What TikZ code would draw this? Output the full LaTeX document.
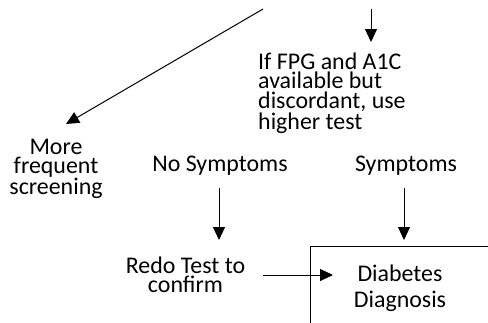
\documentclass[tikz,border=0pt]{standalone}
\usepackage{fontspec}
\setmainfont{Carlito}
\usetikzlibrary{arrows.meta}
\begin{document}
\begin{tikzpicture}[x=1bp,y=-1bp,
  txt/.style={font=\fontsize{24}{19.5}\selectfont, align=center, inner sep=0pt},
  arr/.style={-{Triangle[length=13bp,width=12bp]}, line width=1bp}]
\useasboundingbox (0,0) rectangle (488,322);
\clip (0,0) rectangle (488,322);
% top arrows (free ends)
\coordinate (d0) at (263,9);
\coordinate (d1) at (66,124);
\draw[arr] (d0) -- (d1);
\coordinate (v0) at (371,9);
\coordinate (v1) at (371,42);
\draw[arr] (v0) -- (v1);
\node[txt, align=left, anchor=west] (ifpg) at (258,93) {If FPG and A1C\\available but\\discordant, use\\higher test};
% left text
\node[txt] (more) at (56,169) {More\\frequent\\screening};
% symptoms
\node[txt] (nosym) at (220,166) {No Symptoms};
\node[txt] (sym) at (406,166) {Symptoms};
\node[txt] (redo) at (185.5,275) {Redo Test to\\confirm};
\node[txt, font=\fontsize{24}{26}\selectfont] (diag) at (400,288) {Diabetes\\Diagnosis};
% box
\draw[line width=1bp] (310,330) |- (495,246);
\coordinate (n0) at (219,188);
\coordinate (n1) at (219,240);
\coordinate (s0) at (404,188);
\coordinate (s1) at (404,240);
\draw[arr] (n0) -- (n1);
\draw[arr] (s0) -- (s1);
\coordinate (r0) at (263,275);
\coordinate (r1) at (333,275);
\draw[arr] (r0) -- (r1);
\end{tikzpicture}
\end{document}
